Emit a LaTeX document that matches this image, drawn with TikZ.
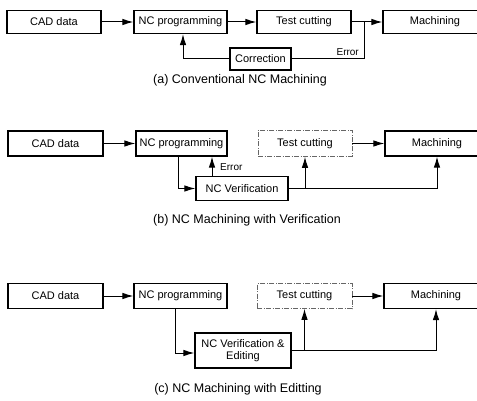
\documentclass[tikz,border=0pt]{standalone}
\usepackage{fontspec}
\setmainfont{Liberation Sans}
\usetikzlibrary{arrows.meta}
\tikzset{
  blk/.style={draw, line width=1.2pt, inner sep=0pt, align=center,
    font=\fontsize{11}{12.5}\selectfont},
  testblk/.style={blk, draw=black!60, line width=0.6pt,
    dash pattern=on 5pt off 1.5pt on 1pt off 1.5pt},
  arr/.style={line width=1pt, -{Latex[length=11pt,width=6.5pt]}},
  ln/.style={line width=1pt},
  lbl/.style={inner sep=1pt, font=\fontsize{10}{11}\selectfont},
  captxt/.style={inner sep=0pt, font=\fontsize{12.5}{14}\selectfont}
}
\begin{document}
\begin{tikzpicture}[x=1pt,y=-1pt]
\useasboundingbox (0,0) rectangle (477,401);
\clip (0,0) rectangle (477,401);

% (a) conventional flow with a correction loop
\node[blk, minimum width=94pt, minimum height=23pt] (cadA) at (54,22) {CAD data};
\node[blk, minimum width=93pt, minimum height=23pt] (ncA) at (180.5,22) {NC programming};
\node[blk, minimum width=94pt, minimum height=23pt] (testA) at (304,22) {Test cutting};
\node[blk, minimum width=104pt, minimum height=23pt] (machA) at (435,22) {Machining};
\node[blk, minimum width=61pt, minimum height=22pt] (corrA) at (260.5,59) {Correction};
\coordinate (jA) at (364,22);
\draw[arr] (cadA) -- (ncA);
\draw[arr] (ncA) -- (testA);
\draw[arr] (testA) -- (machA);
\draw[ln] (jA) |- (corrA.east);
\draw[arr] (corrA.west) -| ([xshift=2.5pt]ncA.south);
\node[lbl, anchor=south east] (errA) at (360,57) {Error};
\node[captxt] (capA) at (240,80) {(a) Conventional NC Machining};

% (b) flow with verification
\node[blk, minimum width=95pt, minimum height=25pt] (cadB) at (55.5,143.5) {CAD data};
\node[blk, minimum width=91pt, minimum height=25pt] (ncB) at (181.5,143.5) {NC programming};
\node[testblk, minimum width=94pt, minimum height=26pt] (testB) at (305,143.5) {Test cutting};
\node[blk, minimum width=104pt, minimum height=25pt] (machB) at (437,143.5) {Machining};
\node[blk, minimum width=92pt, minimum height=24pt] (verB) at (242,188.5) {NC Verification};
\draw[arr] (cadB) -- (ncB);
\draw[arr] (testB) -- (machB);
\draw[arr] ([xshift=-3.5pt]ncB.south) |- (verB.west);
\draw[arr] ([xshift=-30pt]verB.north) -- ([xshift=-30pt]verB.north |- ncB.south);
\node[lbl, anchor=west] (errB) at (219,167) {Error};
\coordinate (jB) at (testB.south |- verB.east);
\draw[arr] (verB.east) -| (machB.south);
\draw[arr] (jB) -- (testB.south);
\node[captxt] (capB) at (247,220) {(b) NC Machining with Verification};

% (c) flow with verification and editing
\node[blk, minimum width=95pt, minimum height=25pt] (cadC) at (55.5,296) {CAD data};
\node[blk, minimum width=93pt, minimum height=25pt] (ncC) at (180.5,296) {NC programming};
\node[testblk, minimum width=95pt, minimum height=25pt] (testC) at (304.5,296) {Test cutting};
\node[blk, minimum width=104pt, minimum height=25pt] (machC) at (436,296) {Machining};
\node[blk, minimum width=96pt, minimum height=35pt] (verC) at (243,350.5) {NC Verification \&\\Editing};
\draw[arr] (cadC) -- (ncC);
\draw[arr] (testC) -- (machC);
\draw[arr] ([xshift=-5.5pt]ncC.south) |- ([yshift=-2.5pt]verC.west);
\coordinate (jC) at (testC.south |- verC.east);
\draw[arr] (verC.east) -| (machC.south);
\draw[arr] (jC) -- (testC.south);
\node[captxt] (capC) at (238,389) {(c) NC Machining with Editting};
\end{tikzpicture}
\end{document}
